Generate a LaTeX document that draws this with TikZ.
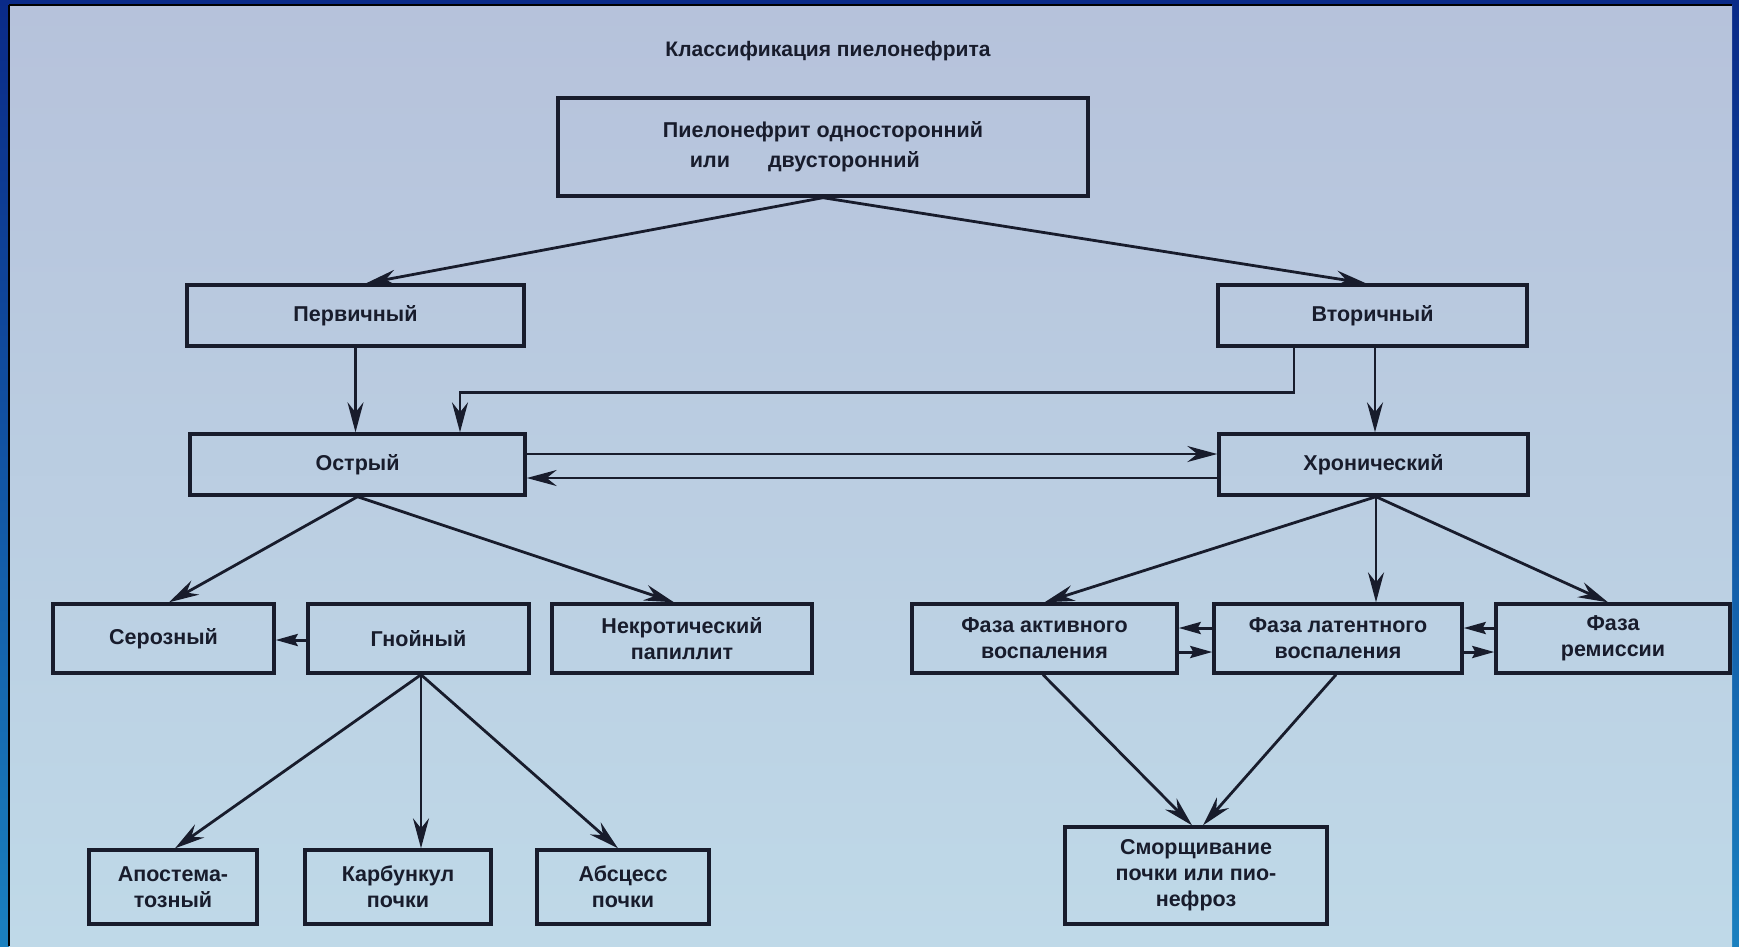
\documentclass[tikz,border=0pt]{standalone}
\usepackage{fontspec}
\setmainfont{Liberation Sans}
\usetikzlibrary{arrows.meta}
\definecolor{bgtop}{HTML}{B6C2DB}
\definecolor{bgbot}{HTML}{BFD9E8}
\definecolor{frametop}{HTML}{0A2A88}
\definecolor{framebot}{HTML}{1A80BF}
\definecolor{ink}{HTML}{181C2C}
\begin{document}
\begin{tikzpicture}[x=1pt,y=-1pt,
  box/.style={draw=ink, line width=3.4pt, inner sep=0pt, align=center,
    font=\bfseries\fontsize{21.5}{26}\selectfont, text=ink},
  conn/.style={draw=ink, line width=2.8pt, -{Stealth[length=30pt,width=16pt,inset=10pt]}},
  sconn/.style={draw=ink, line width=3pt, -{Stealth[length=22pt,width=12pt,inset=3pt]}}]
\useasboundingbox (0,0) rectangle (1739,946);
% frame and background
\fill[frametop] (0,0) rectangle (1739,946);
\shade[top color=frametop, bottom color=framebot] (0,0) rectangle (9,946);
\shade[top color=frametop, bottom color=framebot] (1732,0) rectangle (1739,946);
\shade[top color=bgtop, bottom color=bgbot] (9,5) rectangle (1732,946);
\draw[black, line width=1.2pt] (9,5) -- (9,946);
\draw[black, line width=1.2pt] (9,5) -- (1732,5);
% title
\node[font=\bfseries\fontsize{21}{25}\selectfont, text=ink] (title) at (828,51) {Классификация пиелонефрита};
% boxes
\node[box, align=left, minimum width=530pt, minimum height=98pt] (top) at (823,147)
  {Пиелонефрит односторонний\\[4pt]\hspace*{27pt}или\hspace{38pt}двусторонний};
\node[box, minimum width=337pt, minimum height=61pt] (perv) at (355.5,315.5) {Первичный};
\node[box, minimum width=309pt, minimum height=61pt] (vtor) at (1372.5,315.5) {Вторичный};
\node[box, minimum width=335pt, minimum height=61pt] (ostr) at (357.5,464.5) {Острый};
\node[box, minimum width=309pt, minimum height=61pt] (hron) at (1373.5,464.5) {Хронический};
\node[box, minimum width=221pt, minimum height=69pt] (seroz) at (163.5,638.5) {Серозный};
\node[box, minimum width=221pt, minimum height=69pt] (gnoy) at (418.5,638.5) {Гнойный};
\node[box, minimum width=260pt, minimum height=69pt] (nekr) at (682,638.5) {Некротический\\папиллит};
\node[box, minimum width=265pt, minimum height=69pt] (fakt) at (1044.5,638.5) {Фаза активного\\воспаления};
\node[box, minimum width=248pt, minimum height=69pt] (flat) at (1338,638.5) {Фаза латентного\\воспаления};
\node[box, minimum width=234pt, minimum height=69pt] (frem) at (1613,638.5) {Фаза\\ремиссии};
\node[box, minimum width=168pt, minimum height=74pt] (apos) at (173,887) {Апостема-\\тозный};
\node[box, minimum width=186pt, minimum height=74pt] (karb) at (398,887) {Карбункул\\почки};
\node[box, minimum width=172pt, minimum height=74pt] (absc) at (623,887) {Абсцесс\\почки};
\node[box, minimum width=262pt, minimum height=97pt] (smor) at (1196,875.5) {Сморщивание\\почки или пио-\\нефроз};
% connectors
\draw[conn] (top.south) -- ([xshift=10.5pt]perv.north);
\draw[conn] (top.south) -- ([xshift=-6.5pt]vtor.north);
\draw[conn] (perv.south) -- (perv.south |- ostr.north);
\draw[conn] ([xshift=2.5pt]vtor.south) -- ([xshift=2.5pt]vtor.south |- hron.north);
\draw[conn] ([xshift=-78.5pt]vtor.south) -- ++(0,45) -| ([xshift=102.5pt]ostr.north);
\draw[conn] ([yshift=10.5pt]ostr.east) -- ([yshift=10.5pt]hron.west);
\draw[conn] ([yshift=-13.5pt]hron.west) -- ([yshift=-13.5pt]ostr.east);
\draw[conn] (ostr.south) -- ([xshift=5.5pt]seroz.north);
\draw[conn] (ostr.south) -- ([xshift=-8pt]nekr.north);
\draw[sconn] ([yshift=-1.5pt]gnoy.west) -- ([yshift=-1.5pt]seroz.east);
\draw[conn] ([xshift=2.5pt]gnoy.south) -- ([xshift=2pt]apos.north);
\draw[conn] ([xshift=2.5pt]gnoy.south) -- ([xshift=23pt]karb.north);
\draw[conn] ([xshift=2.5pt]gnoy.south) -- ([xshift=-5pt]absc.north);
\draw[conn] ([xshift=2.5pt]hron.south) -- (fakt.north);
\draw[conn] ([xshift=2.5pt]hron.south) -- ([xshift=38pt]flat.north);
\draw[conn] ([xshift=2.5pt]hron.south) -- ([xshift=-5pt]frem.north);
\draw[sconn] ([yshift=10.5pt]flat.west) -- ([yshift=10.5pt]fakt.east);
\draw[sconn] ([yshift=-13.5pt]fakt.east) -- ([yshift=-13.5pt]flat.west);
\draw[sconn] ([yshift=10.5pt]frem.west) -- ([yshift=10.5pt]flat.east);
\draw[sconn] ([yshift=-13.5pt]flat.east) -- ([yshift=-13.5pt]frem.west);
\draw[conn] ([xshift=-1.5pt]fakt.south) -- ([xshift=-4pt]smor.north);
\draw[conn] ([xshift=-2pt]flat.south) -- ([xshift=7pt]smor.north);
\end{tikzpicture}
\end{document}
